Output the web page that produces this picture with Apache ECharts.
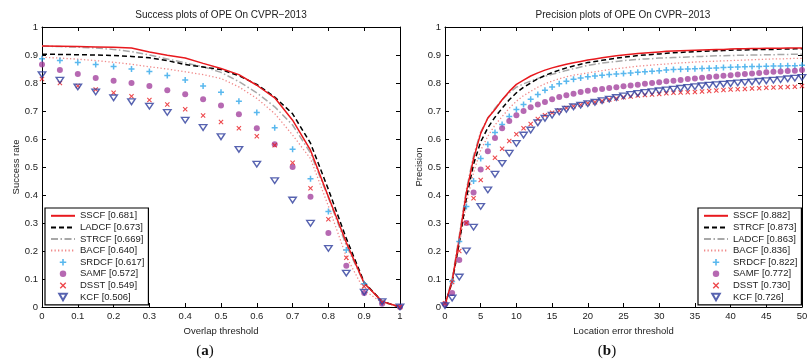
<!DOCTYPE html>
<html>
<head>
<meta charset="utf-8">
<script src="https://cdn.jsdelivr.net/npm/echarts@6/dist/echarts.min.js"></script>
<style>html,body{margin:0;padding:0;background:#fff}#c{width:811px;height:364px}</style>
</head>
<body>
<div id="c"></div>
<script>
// ---------- DATA ----------
const successX = [0,0.05,0.1,0.15,0.2,0.25,0.3,0.35,0.4,0.45,0.5,0.55,0.6,0.65,0.7,0.75,0.8,0.85,0.9,0.95,1];
const successNames = ['SSCF','LADCF','STRCF','BACF','SRDCF','SAMF','DSST','KCF'];
const successScores = ['0.681','0.673','0.669','0.640','0.617','0.572','0.549','0.506'];
const succSSCF  = [0.932,0.931,0.930,0.929,0.928,0.925,0.911,0.899,0.889,0.870,0.852,0.830,0.792,0.747,0.667,0.560,0.394,0.230,0.085,0.020,0];
const succLADCF = [0.903,0.902,0.901,0.900,0.898,0.895,0.890,0.880,0.866,0.857,0.848,0.826,0.795,0.750,0.690,0.585,0.420,0.245,0.088,0.020,0];
const succSTRCF = [0.932,0.930,0.928,0.925,0.920,0.912,0.900,0.886,0.872,0.858,0.838,0.805,0.765,0.715,0.650,0.550,0.390,0.220,0.085,0.020,0];
const succBACF  = [0.892,0.889,0.885,0.880,0.874,0.867,0.858,0.850,0.840,0.830,0.816,0.786,0.745,0.691,0.614,0.530,0.360,0.180,0.060,0.015,0];
const succSRDCF = [0.887,0.880,0.873,0.866,0.859,0.850,0.841,0.827,0.811,0.789,0.767,0.735,0.695,0.640,0.563,0.458,0.341,0.204,0.083,0.014,0];
const succSAMF  = [0.866,0.846,0.832,0.818,0.808,0.800,0.789,0.774,0.760,0.742,0.720,0.688,0.638,0.581,0.500,0.394,0.264,0.147,0.050,0.012,0];
const succDSST  = [0.814,0.800,0.789,0.777,0.765,0.753,0.739,0.723,0.706,0.684,0.661,0.638,0.610,0.578,0.515,0.424,0.313,0.176,0.073,0.017,0];
const succKCF   = [0.830,0.810,0.786,0.768,0.747,0.733,0.717,0.695,0.667,0.641,0.608,0.563,0.510,0.451,0.382,0.299,0.209,0.121,0.053,0.019,0];

const precisionX = [0,1,2,3,4,5,6,7,8,9,10,11,12,13,14,15,16,17,18,19,20,21,22,23,24,25,26,27,28,29,30,31,32,33,34,35,36,37,38,39,40,41,42,43,44,45,46,47,48,49,50];
const precisionNames = ['SSCF','STRCF','LADCF','BACF','SRDCF','SAMF','DSST','KCF'];
const precisionScores = ['0.882','0.873','0.863','0.836','0.822','0.772','0.730','0.726'];
const precSSCF  = [0.008,0.093,0.245,0.410,0.530,0.620,0.675,0.705,0.740,0.770,0.795,0.810,0.825,0.836,0.846,0.854,0.861,0.867,0.872,0.877,0.882,0.886,0.890,0.894,0.897,0.900,0.903,0.905,0.907,0.909,0.911,0.913,0.914,0.915,0.916,0.917,0.918,0.919,0.920,0.920,0.921,0.922,0.922,0.923,0.923,0.924,0.924,0.924,0.925,0.925,0.925];
const precSTRCF = [0.008,0.090,0.230,0.390,0.510,0.590,0.640,0.678,0.710,0.740,0.765,0.785,0.800,0.815,0.827,0.837,0.846,0.854,0.861,0.867,0.873,0.877,0.881,0.885,0.889,0.892,0.895,0.898,0.900,0.902,0.904,0.906,0.908,0.909,0.911,0.912,0.913,0.914,0.915,0.916,0.917,0.918,0.918,0.919,0.919,0.920,0.920,0.921,0.921,0.922,0.922];
const precLADCF = [0.008,0.100,0.255,0.420,0.540,0.625,0.675,0.710,0.740,0.765,0.785,0.797,0.807,0.816,0.824,0.831,0.838,0.845,0.851,0.857,0.863,0.867,0.871,0.874,0.877,0.880,0.882,0.884,0.886,0.887,0.889,0.890,0.891,0.892,0.893,0.894,0.895,0.896,0.897,0.897,0.898,0.899,0.899,0.900,0.900,0.901,0.901,0.902,0.902,0.903,0.903];
const precBACF  = [0.008,0.085,0.220,0.370,0.480,0.560,0.610,0.650,0.680,0.710,0.735,0.755,0.770,0.785,0.797,0.807,0.815,0.822,0.828,0.832,0.836,0.840,0.844,0.848,0.851,0.854,0.857,0.860,0.862,0.864,0.866,0.868,0.870,0.872,0.873,0.875,0.876,0.877,0.878,0.879,0.880,0.881,0.882,0.883,0.884,0.885,0.886,0.886,0.887,0.888,0.888];
const precSRDCF = [0.010,0.091,0.234,0.359,0.450,0.530,0.580,0.623,0.652,0.680,0.705,0.723,0.742,0.759,0.774,0.786,0.797,0.806,0.813,0.818,0.822,0.825,0.828,0.830,0.832,0.834,0.836,0.838,0.840,0.842,0.844,0.846,0.848,0.849,0.850,0.851,0.852,0.853,0.854,0.855,0.856,0.857,0.858,0.859,0.859,0.860,0.861,0.861,0.862,0.862,0.863];
const precSAMF  = [0.010,0.050,0.168,0.300,0.409,0.491,0.556,0.604,0.638,0.664,0.685,0.700,0.713,0.723,0.732,0.742,0.750,0.756,0.762,0.768,0.772,0.776,0.779,0.782,0.785,0.788,0.791,0.794,0.797,0.800,0.803,0.806,0.808,0.811,0.814,0.816,0.819,0.821,0.823,0.826,0.828,0.830,0.832,0.834,0.836,0.838,0.840,0.841,0.843,0.844,0.846];
const precDSST  = [0.013,0.089,0.200,0.300,0.388,0.454,0.497,0.533,0.565,0.593,0.617,0.638,0.654,0.671,0.685,0.694,0.702,0.711,0.717,0.722,0.728,0.731,0.736,0.741,0.745,0.749,0.752,0.755,0.757,0.759,0.761,0.763,0.765,0.766,0.767,0.768,0.770,0.771,0.773,0.775,0.777,0.778,0.779,0.780,0.781,0.783,0.784,0.785,0.786,0.787,0.789];
const precKCF   = [0.005,0.032,0.107,0.200,0.285,0.359,0.418,0.474,0.513,0.549,0.584,0.614,0.632,0.658,0.674,0.685,0.697,0.706,0.715,0.721,0.726,0.731,0.737,0.742,0.748,0.754,0.759,0.763,0.766,0.769,0.772,0.775,0.778,0.781,0.784,0.787,0.790,0.792,0.794,0.796,0.798,0.800,0.802,0.804,0.806,0.808,0.810,0.812,0.815,0.817,0.820];

const successSeriesData = [succSSCF, succLADCF, succSTRCF, succBACF, succSRDCF, succSAMF, succDSST, succKCF];
const precisionSeriesData = [precSSCF, precSTRCF, precLADCF, precBACF, precSRDCF, precSAMF, precDSST, precKCF];

// ---------- STYLES (by rank) ----------
const FONT = 'Liberation Sans, Arial, Helvetica, sans-serif';
const PLUS = 'path://M3,0h2v3h3v2h-3v3h-2v-3h-3v-2h3z';
const CROSS = 'path://M0,1.2L1.2,0L4,2.8L6.8,0L8,1.2L5.2,4L8,6.8L6.8,8L4,5.2L1.2,8L0,6.8L2.8,4Z';
const TRI = 'path://M0,0L10,0L5,8.66Z';
const rankStyles = [
  {kind:'line', color:'#e8191e', width:1.5, type:'solid'},
  {kind:'line', color:'#000000', width:1.5, type:[5,3]},
  {kind:'line', color:'#a8a8a8', width:1.5, type:[7,2.5,1.5,2.5]},
  {kind:'line', color:'#f08a8a', width:1.3, type:[1.3,2.2]},
  {kind:'mark', color:'#2fa6ea', symbol:PLUS, size:6},
  {kind:'mark', color:'#a4449f', symbol:'circle', size:6},
  {kind:'mark', color:'#e8191e', symbol:CROSS, size:5},
  {kind:'mark', color:'#2d3c9c', symbol:TRI, size:[7.5,6.5], hollow:true}
];

function buildSeries(names, scores, xs, datas, xi, yi) {
  return names.map((n, r) => {
    const st = rankStyles[r];
    const data = xs.map((x, i) => [x, datas[r][i]]);
    const name = n + ' [' + scores[r] + ']';
    if (st.kind === 'line') {
      return {
        type:'line', name, data, xAxisIndex:xi, yAxisIndex:yi,
        symbol:'none', showSymbol:false, smooth:false, z: 10 - r,
        lineStyle:{color:st.color, width:st.width, type:st.type},
        itemStyle:{color:st.color}
      };
    }
    return {
      type:'scatter', name, data, xAxisIndex:xi, yAxisIndex:yi,
      symbol:st.symbol, symbolSize:st.size, symbolKeepAspect:true, z: 20 + r,
      itemStyle: st.hollow ? {color:'rgba(255,255,255,0)', borderColor:st.color, borderWidth:1.4}
                           : {color:st.color}
    };
  });
}

const axisLine = {show:true, onZero:false, lineStyle:{color:'#000', width:1}};
const axisTick = {show:true, inside:true, length:4, lineStyle:{color:'#000', width:1}};
const labelStyle = {color:'#222', fontSize:9.5, fontFamily:FONT};
const fmtY = v => (v === 0 ? '0' : v === 1 ? '1' : v.toFixed(1));

function xAxes(gi, min, max, interval, fmt, name) {
  return [
    {type:'value', gridIndex:gi, position:'bottom', min, max, interval,
     axisLine, axisTick, splitLine:{show:false},
     axisLabel:Object.assign({margin:4, formatter:fmt, showMinLabel:true, showMaxLabel:true}, labelStyle),
     name, nameLocation:'middle', nameGap:14,
     nameTextStyle:{color:'#222', fontSize:9.5, fontFamily:FONT}},
    {type:'value', gridIndex:gi, position:'top', min, max, interval,
     axisLine, axisTick, splitLine:{show:false}, axisLabel:{show:false}}
  ];
}
function yAxes(gi, name) {
  return [
    {type:'value', gridIndex:gi, position:'left', min:0, max:1, interval:0.1,
     axisLine, axisTick, splitLine:{show:false},
     axisLabel:Object.assign({margin:4, formatter:fmtY}, labelStyle),
     name, nameLocation:'middle', nameGap:17,
     nameTextStyle:{color:'#222', fontSize:9.5, fontFamily:FONT}},
    {type:'value', gridIndex:gi, position:'right', min:0, max:1, interval:0.1,
     axisLine, axisTick, splitLine:{show:false}, axisLabel:{show:false}}
  ];
}

function legendFor(names, scores, left) {
  return {
    orient:'vertical', left, top:208,
    data: names.map((n, i) => {
      const item = {name: n + ' [' + scores[i] + ']'};
      if (rankStyles[i].kind === 'line') item.itemStyle = {opacity:0};
      return item;
    }),
    itemWidth:24, itemHeight:6.5, itemGap:0,
    padding:[2,4,2,5],
    borderColor:'#000', borderWidth:1.2, backgroundColor:'#fff',
    textStyle:{color:'#222', fontSize:9.5, fontFamily:FONT, lineHeight:11.6},
    selectedMode:false, z:50
  };
}

const chart = echarts.init(document.getElementById('c'), null, {renderer:'canvas'});
chart.setOption({
  animation:false,
  backgroundColor:'#fff',
  grid:[
    {left:42, right:411, top:27, bottom:57},
    {left:445, right:9, top:27, bottom:57}
  ],
  xAxis: [].concat(
    xAxes(0, 0, 1, 0.1, v => (v === 0 ? '0' : v === 1 ? '1' : v.toFixed(1)), 'Overlap threshold'),
    xAxes(1, 0, 50, 5, v => String(Math.round(v)), 'Location error threshold')
  ),
  yAxis: [].concat(yAxes(0, 'Success rate'), yAxes(1, 'Precision')),
  legend:[
    legendFor(successNames, successScores, 45),
    legendFor(precisionNames, precisionScores, 698)
  ],
  series: [].concat(
    buildSeries(successNames, successScores, successX, successSeriesData, 0, 0),
    buildSeries(precisionNames, precisionScores, precisionX, precisionSeriesData, 2, 2)
  ),
  graphic:[
    {type:'text', position:[221,15], style:{text:'Success plots of OPE On CVPR\u22122013', x:0, y:0, align:'center', verticalAlign:'middle', fill:'#222', font:'10px ' + FONT}},
    {type:'text', position:[623,15], style:{text:'Precision plots of OPE On CVPR\u22122013', x:0, y:0, align:'center', verticalAlign:'middle', fill:'#222', font:'10px ' + FONT}},
    {type:'text', position:[205,351], style:{text:'({a|a})', x:0, y:0, align:'center', verticalAlign:'middle', fill:'#111', font:'15px Liberation Serif, serif', rich:{a:{font:'bold 15px Liberation Serif, serif', fill:'#111'}}}},
    {type:'text', position:[607,351], style:{text:'({a|b})', x:0, y:0, align:'center', verticalAlign:'middle', fill:'#111', font:'15px Liberation Serif, serif', rich:{a:{font:'bold 15px Liberation Serif, serif', fill:'#111'}}}}
  ]
});
</script>
</body>
</html>
